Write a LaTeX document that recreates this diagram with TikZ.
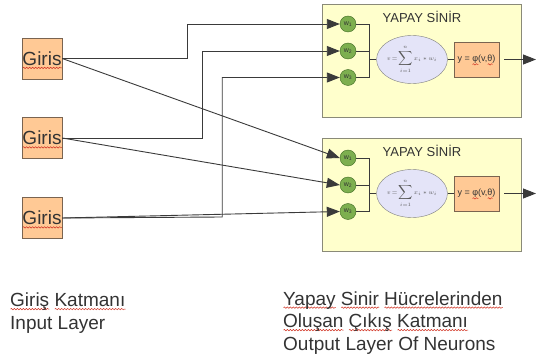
\documentclass[tikz,border=0pt]{standalone}
\usepackage{fontspec}
\setmainfont{Liberation Sans}
\usetikzlibrary{arrows.meta,decorations.pathmorphing,shapes.geometric}

\definecolor{inkline}{HTML}{3A3A3A}
\definecolor{textgray}{HTML}{333333}
\definecolor{inorange}{HTML}{FFC995}
\definecolor{orangeedge}{HTML}{7A6450}
\definecolor{paleyellow}{HTML}{FFFFCC}
\definecolor{yellowedge}{HTML}{8A8A78}
\definecolor{leafgreen}{HTML}{7DAF4F}
\definecolor{darkgreen}{HTML}{3F6B22}
\definecolor{lavender}{HTML}{E4E4F8}
\definecolor{spellred}{HTML}{D03020}

% red wavy underline under a word
\newsavebox\spellbox
\newcommand\spell[1]{\sbox\spellbox{#1}\leavevmode\rlap{\smash{\tikz[baseline=0pt]\draw[spellred,line width=0.5pt,decorate,decoration={snake,amplitude=0.7pt,segment length=3pt}] (0pt,-2.6pt) -- (\wd\spellbox,-2.6pt);}}\usebox\spellbox}

\tikzset{
  inbox/.style={draw=orangeedge, fill=inorange, minimum width=40pt, minimum height=41pt, inner sep=0pt, text=textgray, font=\fontsize{19}{19}\selectfont},
  neuronbox/.style={draw=yellowedge, fill=paleyellow, minimum width=199pt, minimum height=113pt, inner sep=0pt, line width=0.8pt},
  weight/.style={circle, draw=darkgreen, fill=leafgreen, minimum size=16pt, inner sep=0pt, text=textgray, font=\fontsize{7}{7}\selectfont},
  sumnode/.style={ellipse, draw=gray, fill=lavender, minimum width=60pt, minimum height=48pt, inner sep=0pt, text=black!65, font=\fontsize{6.5}{6.5}\selectfont},
  actbox/.style={draw=orangeedge, fill=inorange, minimum width=45pt, minimum height=35pt, inner sep=0pt, text=textgray, font=\fontsize{9}{9}\selectfont},
  titletext/.style={text=textgray, font=\fontsize{13}{13}\selectfont, inner sep=0pt},
  caption/.style={text=textgray, font=\fontsize{19}{19}\selectfont, inner sep=0pt, anchor=base west},
  wire/.style={draw=inkline, line width=0.9pt},
  feed/.style={wire, -{Triangle[length=13pt,width=10pt]}}
}

\begin{document}
\begin{tikzpicture}[x=1pt,y=-1pt]
\useasboundingbox (0,0) rectangle (536,361);

% input layer
\node[inbox] (g1) at (42,58.5) {\spell{Giris}};
\node[inbox] (g2) at (42,138) {\spell{Giris}};
\node[inbox] (g3) at (42,218) {\spell{Giris}};

% two artificial neurons
\foreach \n/\dy in {t/0, b/134} {
  \node[neuronbox] (\n box) at (421.5,60.5+\dy) {};
  \node[titletext] (\n title) at (422,16.7+\dy) {YAPAY SİNİR};
  \node[weight] (\n w1) at (348,24+\dy) {w\textsubscript{1}};
  \node[weight] (\n w2) at (348,51+\dy) {w\textsubscript{2}};
  \node[weight] (\n w3) at (348,77.5+\dy) {w\textsubscript{3}};
  \node[sumnode] (\n sum) at (412,59.5+\dy) {$\displaystyle v\!=\!\sum_{i=1}^{n} x_i * w_i$};
  \node[actbox] (\n act) at (476.5,59.5+\dy) {y = \spell{φ}(v,\spell{θ})};
  \coordinate (\n bus) at (369,59.5+\dy);
  \coordinate (\n out) at (536,59.5+\dy);
  \draw[wire] (\n w1.east) -| (\n bus);
  \draw[wire] (\n w2.east) -| (\n bus);
  \draw[wire] (\n w3.east) -| (\n bus);
  \draw[wire, line width=1.4pt] (\n bus) -- (\n sum.west);
  \draw[wire] (\n sum.east) -- (\n act.west);
  \draw[feed] ([xshift=5pt]\n act.east) -- (\n out);
}

% connections into the upper neuron
\draw[feed] (g1.east) -- ++(125,0) |- (tw1.west);
\draw[feed] (g2.east) -- ++(140,0) |- (tw2.west);
\draw[feed] (g3.east) -- ++(160,-1) |- (tw3.west);

% connections into the lower neuron
\draw[feed] (g1.east) -- (bw1.west);
\draw[feed] (g2.east) -- (bw2.west);
\draw[feed] (g3.east) -- (bw3.west);

% captions
\node[caption] (l1) at (10,306.5) {\spell{Giriş} \spell{Katmanı}};
\node[caption] (l2) at (10,329) {Input Layer};
\node[caption] (r1) at (283,305) {\spell{Yapay} \spell{Sinir} \spell{Hücrelerinden}};
\node[caption] (r2) at (283,327.5) {\spell{Oluşan} \spell{Çıkış} \spell{Katmanı}};
\node[caption] (r3) at (283,350) {Output Layer Of Neurons};
\end{tikzpicture}
\end{document}
